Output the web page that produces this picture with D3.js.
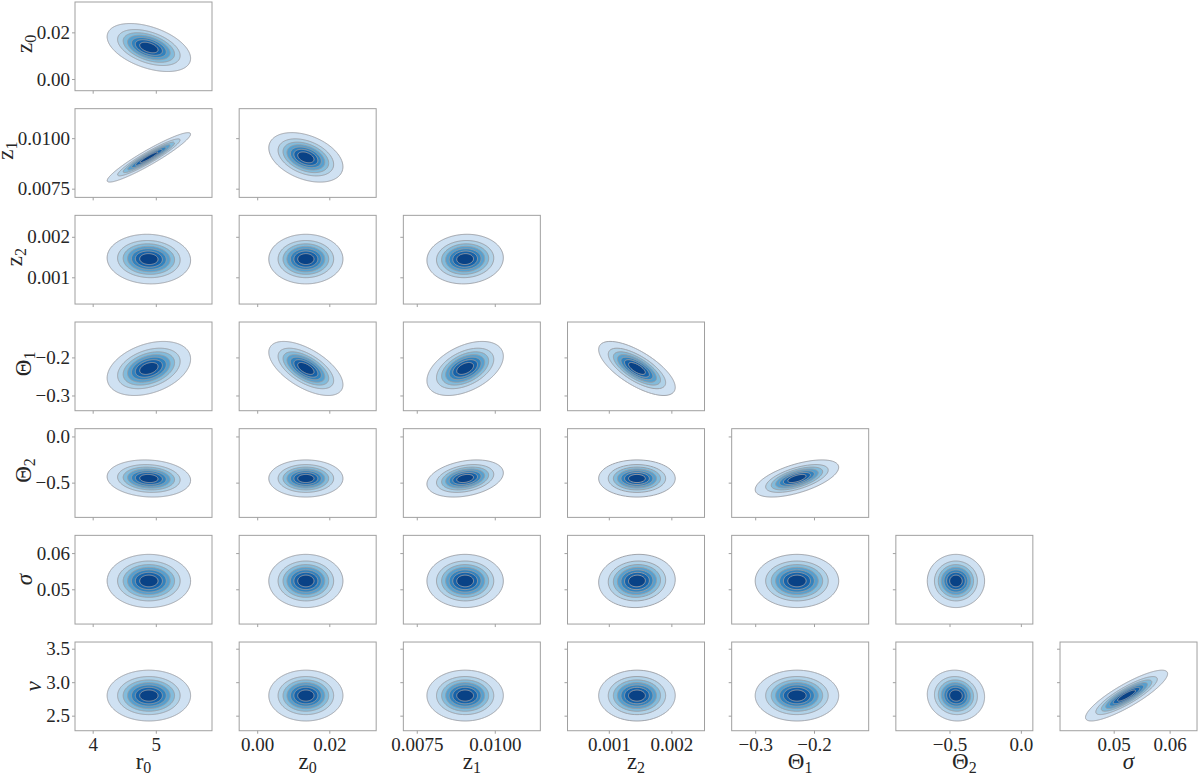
<!DOCTYPE html>
<meta charset="utf-8">
<style>
  body { margin: 0; background: #fff; }
  svg text { font-family: "Liberation Serif", "DejaVu Serif", serif; fill: #262626; }
  .frame { fill: none; stroke: #a0a0a0; stroke-width: 1; }
  .tick line { stroke: #a0a0a0; }
  .band { stroke: #999ca3; stroke-width: 0.9; stroke-linejoin: round; }
</style>
<svg width="1200" height="776"></svg>
<script src="https://d3js.org/d3.v7.min.js"></script>
<script>

// parameters of the corner plot
var names = ["r0", "z0", "z1", "z2", "Θ1", "Θ2", "σ", "ν"];
var labelBase = ["r", "z", "z", "z", "Θ", "Θ", "σ", "ν"];
var labelSub = ["0", "0", "1", "2", "1", "2", "", ""];
var labelItalic = [false, false, false, false, false, false, true, true];

var means = [4.89, 0.0135, 0.00905, 0.00145, -0.229, -0.455, 0.0523, 2.80];
var sds = [0.27, 0.0042, 0.0005, 0.00025, 0.029, 0.082, 0.0030, 0.155];

var lows = [3.72, -0.005, 0.00707, 0.00034, -0.340, -0.876, 0.0404, 2.275];
var highs = [5.89, 0.033, 0.01146, 0.00253, -0.107, 0.084, 0.0649, 3.60];

var tickValues = [[4, 5], [0, 0.02], [0.0075, 0.01], [0.001, 0.002],
  [-0.3, -0.2], [-0.5, 0], [0.05, 0.06], [2.5, 3, 3.5]];
var tickLabels = [["4", "5"], ["0.00", "0.02"], ["0.0075", "0.0100"], ["0.001", "0.002"],
  ["\u22120.3", "\u22120.2"], ["\u22120.5", "0.0"], ["0.05", "0.06"], ["2.5", "3.0", "3.5"]];

// correlation of row variable i with column variables 0..i-1
var corr = [
  [],
  [-0.45],
  [0.94, -0.38],
  [-0.05, 0.0, 0.05],
  [0.35, -0.6, 0.45, -0.7],
  [-0.1, 0.0, 0.3, 0.0, 0.6],
  [0.0, 0.0, 0.0, 0.05, 0.0, 0.0],
  [0.0, 0.0, 0.0, 0.0, 0.0, -0.05, 0.86]
];

// iso-proportion levels of the filled contours
var levels = [0.05, 0.186, 0.321, 0.457, 0.593, 0.729, 0.864];

var svg = d3.select("svg");

var left0 = 75, stepX = 164.17, pw = 137,
    top0 = 2, stepY = 106.67, ph = 88.7;

var fontFam = "'Liberation Serif', 'DejaVu Serif', serif";

var fillColor = function(k) {
  return d3.interpolateBlues(0.2 + k * 0.73 / (levels.length - 1));
};

function drawPanel(i, j) {
  var x0 = left0 + j * stepX,
      y0 = top0 + (i - 1) * stepY;
  var xs = d3.scaleLinear().domain([lows[j], highs[j]]).range([x0, x0 + pw]);
  var ys = d3.scaleLinear().domain([lows[i], highs[i]]).range([y0 + ph, y0]);

  var g = svg.append("g");
  var clipId = "clip" + i + "_" + j;
  g.append("clipPath").attr("id", clipId)
    .append("rect").attr("x", x0).attr("y", y0).attr("width", pw).attr("height", ph);

  // density on a pixel grid
  var n = Math.ceil(pw), m = Math.ceil(ph);
  var rho = corr[i][j];
  var vals = new Array(n * m);
  for (var gy = 0; gy < m; gy++) {
    for (var gx = 0; gx < n; gx++) {
      var zx = (xs.invert(x0 + gx + 0.5) - means[j]) / sds[j];
      var zy = (ys.invert(y0 + gy + 0.5) - means[i]) / sds[i];
      var d2 = (zx * zx - 2 * rho * zx * zy + zy * zy) / (1 - rho * rho);
      vals[gx + gy * n] = Math.exp(-d2 / 2);
    }
  }
  var cs = d3.contours().size([n, m]).thresholds(levels)(vals);
  var path = d3.geoPath(d3.geoTransform({
    point: function(x, y) { this.stream.point(x0 + x, y0 + y); }
  }));

  g.append("g").attr("clip-path", "url(#" + clipId + ")")
    .selectAll("path")
    .data(cs)
    .enter()
    .append("path")
    .attr("class", "band")
    .attr("d", path)
    .attr("fill", function(d, k) { return fillColor(k); });

  // ticks, labels only on the outer panels
  var showY = (j === 0), showX = (i === names.length - 1);
  var ya = svg.append("g").attr("transform", "translate(" + x0 + ",0)")
    .call(d3.axisLeft(ys).tickValues(tickValues[i]).tickSize(3).tickPadding(2)
      .tickFormat(function(d, k) { return tickLabels[i][k]; }));
  var xa = svg.append("g").attr("transform", "translate(0," + (y0 + ph) + ")")
    .call(d3.axisBottom(xs).tickValues(tickValues[j]).tickSize(3).tickPadding(4)
      .tickFormat(function(d, k) { return tickLabels[j][k]; }));
  [ya, xa].forEach(function(a) {
    a.select(".domain").remove();
    a.attr("font-family", fontFam).attr("font-size", 19);
    a.selectAll("text").attr("fill", "#262626").attr("font-family", fontFam);
  });
  if (!showY) ya.selectAll("text").remove();
  if (!showX) xa.selectAll("text").remove();

  g.append("rect").attr("class", "frame")
    .attr("x", x0).attr("y", y0).attr("width", pw).attr("height", ph);

  if (showY) {
    var bb = ya.node().getBBox();
    var tickLeft = x0 + bb.x;
    var cy = y0 + ph / 2 - (labelSub[i] ? 2.5 : 0);
    var lab = svg.append("g")
      .attr("transform", "translate(" + (tickLeft - 5) + "," + cy + ") rotate(-90)");
    addLabel(lab, i);
  }
  if (showX) {
    var lx = svg.append("g")
      .attr("transform", "translate(" + (x0 + pw / 2) + "," + (y0 + ph + 38.5) + ")");
    addLabel(lx, j);
  }
}

function addLabel(sel, v) {
  var t = sel.append("text")
    .attr("text-anchor", "middle")
    .attr("font-family", fontFam)
    .attr("font-size", 23);
  t.append("tspan")
    .attr("font-style", labelItalic[v] ? "italic" : "normal")
    .text(labelBase[v]);
  if (labelSub[v]) {
    t.append("tspan").attr("dy", 4).attr("font-size", 16).text(labelSub[v]);
  }
}

for (var i = 1; i < names.length; i++) {
  for (var j = 0; j < i; j++) {
    drawPanel(i, j);
  }
}

</script>
